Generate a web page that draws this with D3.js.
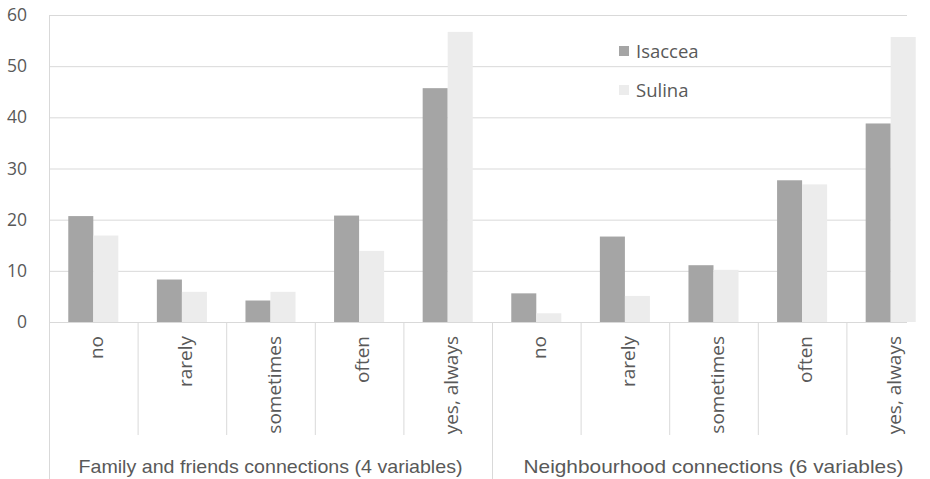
<!DOCTYPE html>
<html>
<head>
<meta charset="utf-8">
<script src="https://cdn.jsdelivr.net/npm/d3@7"></script>
<style>
  html, body { margin: 0; padding: 0; background: #fff; }
  svg { display: block; }
</style>
</head>
<body>
<svg id="chart" width="930" height="479"></svg>
<script>
// ---- data ----
const categories = ["no", "rarely", "sometimes", "often", "yes, always"];
const groups = ["Family and friends connections (4 variables)", "Neighbourhood connections (6 variables)"];
const seriesNames = ["Isaccea", "Sulina"];
const isaccea = [20.7, 8.3, 4.2, 20.8, 45.7, 5.6, 16.7, 11.1, 27.7, 38.8];
const sulina  = [16.9, 5.9, 5.9, 13.9, 56.7, 1.7, 5.1, 10.2, 26.9, 55.7];
const yTicks = [0, 10, 20, 30, 40, 50, 60];

// ---- layout ----
const svg = d3.select("#chart");
const plotLeft = 49, plotRight = 935, plotTop = 15, plotBottom = 322;
const gridRight = 907;
const textColor = "#595959";
const gridColor = "#d9d9d9";
const colors = { Isaccea: "#a5a5a5", Sulina: "#ececec" };

const keys = d3.range(groups.length * categories.length);
const x = d3.scaleBand().domain(keys).range([plotLeft, plotRight]).paddingInner(0).paddingOuter(0);
const x1 = d3.scaleBand().domain(seriesNames).range([0, x.bandwidth()]).paddingInner(0).paddingOuter(0.77);
const y = d3.scaleLinear().domain([0, 60]).range([plotBottom, plotTop]);

// gridlines
const gridAxis = d3.axisLeft(y).tickValues(yTicks).tickSize(-(gridRight - plotLeft)).tickFormat("");
const gg = svg.append("g").attr("transform", `translate(${plotLeft},0)`).call(gridAxis);
gg.select(".domain").remove();
gg.selectAll(".tick line").attr("stroke", gridColor).attr("stroke-width", 1);

// y tick labels
const yAxis = d3.axisLeft(y).tickValues(yTicks).tickSize(0).tickPadding(0);
const ya = svg.append("g").attr("transform", `translate(27,0)`).call(yAxis);
ya.select(".domain").remove();
ya.selectAll(".tick text")
  .attr("fill", textColor)
  .style("font-family", "'Open Sans', sans-serif")
  .style("font-size", "17.5px");

// vertical axis line
svg.append("line").attr("x1", plotLeft + 0.5).attr("x2", plotLeft + 0.5).attr("y1", plotTop).attr("y2", 479)
  .attr("stroke", gridColor);

// bars
const rows = keys.map(i => ({ i, vals: [ { s: "Isaccea", v: isaccea[i] }, { s: "Sulina", v: sulina[i] } ] }));
const bg = svg.append("g");
rows.forEach(r => {
  bg.selectAll(null).data(r.vals).enter().append("rect")
    .attr("x", d => x(r.i) + x1(d.s))
    .attr("width", x1.bandwidth())
    .attr("y", d => y(d.v))
    .attr("height", d => y(0) - y(d.v))
    .attr("fill", d => colors[d.s]);
});

// category separators below axis
const sepG = svg.append("g");
keys.slice(1).forEach(i => {
  const isGroup = i % categories.length === 0;
  sepG.append("line")
    .attr("x1", x(i) + 0.5).attr("x2", x(i) + 0.5)
    .attr("y1", plotBottom).attr("y2", isGroup ? 479 : 435)
    .attr("stroke", gridColor);
});

// category labels (rotated)
const lg = svg.append("g");
keys.forEach(i => {
  const cx = x(i) + x.bandwidth() / 2;
  lg.append("text")
    .attr("transform", `translate(${cx + 10},336) rotate(-90)`)
    .attr("text-anchor", "end")
    .attr("fill", textColor)
    .style("font-family", "'Open Sans', sans-serif")
    .style("font-size", "19px")
    .text(categories[i % categories.length]);
});

// group labels
groups.forEach((g, gi) => {
  const x0 = x(gi * categories.length);
  const x2 = x(gi * categories.length + categories.length - 1) + x.bandwidth();
  svg.append("text")
    .attr("x", (x0 + x2) / 2)
    .attr("y", 473)
    .attr("text-anchor", "middle")
    .attr("fill", textColor)
    .attr("textLength", gi === 0 ? 384 : 380)
    .attr("lengthAdjust", "spacingAndGlyphs")
    .style("font-family", "'Liberation Sans Narrow', 'Liberation Sans', sans-serif")
    .style("font-size", "19px")
    .text(g);
});

// legend
const leg = svg.append("g");
seriesNames.forEach((s, i) => {
  const ly = 58 + i * 39;
  leg.append("rect").attr("x", 619).attr("y", ly - 12).attr("width", 10).attr("height", 10).attr("fill", colors[s]);
  leg.append("text").attr("x", 636).attr("y", ly)
    .attr("fill", textColor)
    .style("font-family", "'Open Sans', sans-serif")
    .style("font-size", "18.5px")
    .text(s);
});
</script>
</body>
</html>
